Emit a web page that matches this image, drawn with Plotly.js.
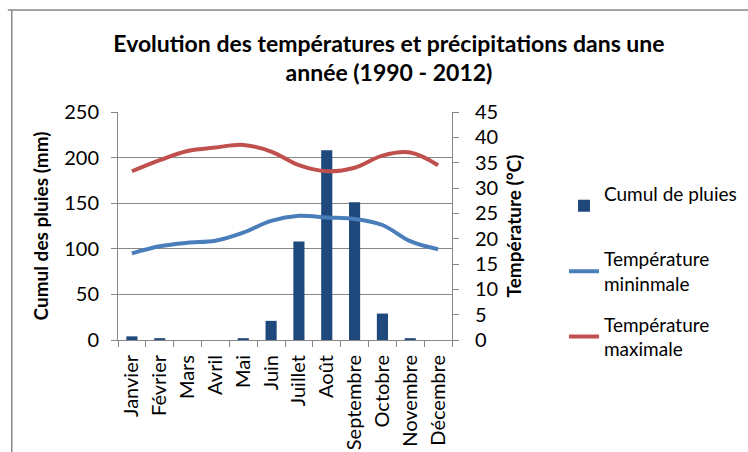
<!DOCTYPE html>
<html>
<head>
<meta charset="utf-8">
<script src="https://cdn.plot.ly/plotly-3.0.1.min.js"></script>
<style>body{margin:0;padding:0;background:#fff;}#chart{width:748px;height:452px;}</style>
</head>
<body>
<div id="chart"></div>
<script>
const months = ["Janvier","Février","Mars","Avril","Mai","Juin","Juillet","Août","Septembre","Octobre","Novembre","Décembre"];
const rain = [4, 2, 0, 0, 2, 21, 108, 208, 151, 29, 2, 0];
const tmin = [17.1, 18.5, 19.2, 19.6, 21.2, 23.5, 24.5, 24.2, 23.9, 22.7, 19.5, 17.9];
const tmax = [33.3, 35.5, 37.3, 38.0, 38.5, 37.2, 34.5, 33.3, 34.0, 36.4, 37.0, 34.5];
const leftTicks = [0, 50, 100, 150, 200, 250];
const rightTicks = [0, 5, 10, 15, 20, 25, 30, 35, 40, 45];

const F = "Lato, 'Open Sans', sans-serif";
const traces = [
  {type:'bar', x:months, y:rain, name:'Cumul de pluies<br>\u00a0', marker:{color:'#1F497D'}, width:0.4, legendgroup:'a'},
  {type:'scatter', mode:'lines', x:months, y:tmin, yaxis:'y2', name:'Température<br>mininmale', line:{color:'#4A7EBB', width:4, shape:'spline', smoothing:1}, legendgroup:'b'},
  {type:'scatter', mode:'lines', x:months, y:tmax, yaxis:'y2', name:'Température<br>maximale', line:{color:'#C0504D', width:4, shape:'spline', smoothing:1}, legendgroup:'c'}
];
const layout = {
  width:748, height:452,
  margin:{l:118, r:296, t:112, b:112, autoexpand:false},
  paper_bgcolor:'#fff', plot_bgcolor:'#fff',
  font:{family:F, size:20, color:'#000'},
  title:{text:'<b>Evolution des températures et précipitations dans une<br>année (1990 - 2012)</b>', font:{family:F, size:23, color:'#000'}, x:0.52, xref:'container', y:0.886, yref:'container', yanchor:'top'},
  showlegend:true,
  legend:{x:0.754, xref:'container', xanchor:'left', y:0.30, yanchor:'middle', font:{family:F, size:19}, traceorder:'grouped', tracegroupgap:13, itemwidth:30},
  xaxis:{type:'category', tickangle:-90, tickson:'boundaries', ticks:'outside', ticklen:6, tickcolor:'#868686', showline:true, linecolor:'#868686', linewidth:1, ticklabelstandoff:6, tickfont:{family:F, size:20}},
  yaxis:{range:[0,250], tickvals:leftTicks, ticks:'outside', ticklen:6, tickcolor:'#868686', showline:true, linecolor:'#868686', showgrid:true, gridcolor:'#868686', gridwidth:1, zeroline:false, ticklabelstandoff:8, tickfont:{family:F, size:20},
         title:{text:'<b>Cumul des pluies (mm)</b>', font:{family:F, size:19}, standoff:10}},
  yaxis2:{range:[0,45], tickvals:rightTicks, overlaying:'y', side:'right', ticks:'outside', ticklen:6, tickcolor:'#868686', showline:true, linecolor:'#868686', showgrid:false, zeroline:false, ticklabelstandoff:12, tickfont:{family:F, size:20},
          title:{text:'<b>Température (°C)</b>', font:{family:F, size:19}, standoff:10}},
  shapes:[
    {type:'line', xref:'paper', yref:'paper', x0:-0.318, x1:-0.318, y0:1.447, y1:-0.5, line:{color:'#868686', width:1.5}},
    {type:'line', xref:'paper', yref:'paper', x0:-0.33, x1:1.9, y0:1.447, y1:1.447, line:{color:'#868686', width:1.5}}
  ]
};
Plotly.newPlot('chart', traces, layout, {displayModeBar:false, staticPlot:true});
</script>
</body>
</html>
